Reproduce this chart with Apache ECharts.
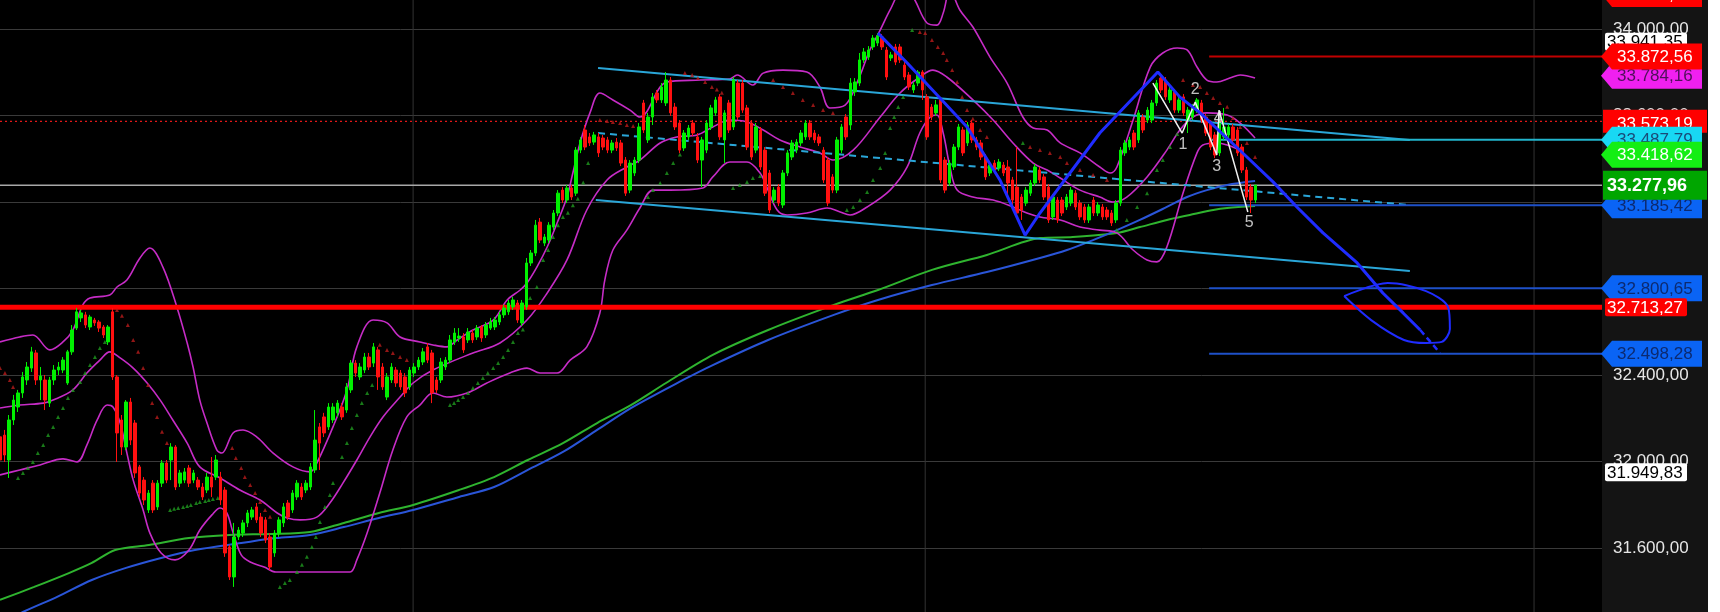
<!DOCTYPE html>
<html><head><meta charset="utf-8">
<script src="https://cdn.jsdelivr.net/npm/echarts@6/dist/echarts.min.js"></script>
<style>html,body{margin:0;padding:0;background:#000;overflow:hidden}#c{width:1720px;height:612px}</style>
</head><body><div id="c"></div>
<script>
// ---- candles (index = bar number) ----
const O=[32114,32122,32007,32192,32252,32317,32377,32432,32502,32377,
32377,32270,32377,32423,32423,32363,32507,32617,32664,32678,
32622,32654,32645,32622,32553,32692,32391,32192,32067,32275,
32178,31975,31914,31776,31900,31790,31900,31993,32007,32067,
31900,31914,31970,31914,31914,31882,31868,31928,31928,31928,
31868,31605,31466,31651,31669,31716,31743,31790,31743,31730,
31651,31577,31669,31716,31808,31776,31836,31882,31868,31882,
31961,32160,32206,32160,32192,32225,32252,32238,32331,32455,
32391,32423,32483,32455,32516,32437,32298,32377,32423,32409,
32391,32345,32409,32437,32460,32530,32502,32377,32377,32437,
32469,32553,32571,32576,32562,32594,32576,32622,32585,32617,
32622,32645,32678,32692,32715,32733,32641,32715,32918,32964,
33107,33010,33024,33084,33149,33255,33209,33265,33241,33440,
33533,33501,33477,33501,33496,33487,33440,33477,33473,33394,
33255,33334,33394,33658,33487,33593,33704,33672,33658,33764,
33639,33565,33450,33501,33565,33501,33394,33440,33547,33612,
33686,33487,33658,33547,33750,33750,33635,33565,33440,33533,
33440,33334,33209,33269,33186,33334,33408,33440,33473,33501,
33565,33519,33501,33440,33394,33316,33255,33440,33593,33556,
33709,33750,33857,33870,33917,33935,33963,33903,33866,33917,
33917,33833,33787,33718,33750,33801,33686,33639,33612,33672,
33394,33288,33362,33454,33533,33473,33565,33487,33473,33408,
33334,33380,33357,33371,33362,33302,33269,33223,33195,33241,
33288,33348,33316,33269,33131,33209,33209,33177,33195,33241,
33195,33177,33117,33209,33149,33177,33163,33149,33117,33195,
33427,33454,33519,33487,33593,33579,33579,33658,33773,33764,
33672,33709,33625,33686,33579,33593,33625,33658,33593,33565,
33510,33427,33501,33510,33547,33533,33454,33348,33269,33209];
const C=[32007,32030,32192,32284,32317,32391,32437,32507,32377,32395,
32284,32377,32423,32437,32469,32507,32608,32692,32687,32631,
32668,32641,32617,32585,32622,32391,32132,32067,32275,32099,
31947,31854,31822,31854,31776,31900,31993,31914,32067,31882,
31947,31952,31900,31947,31882,31836,31928,31882,32007,31822,
31577,31466,31651,31683,31716,31762,31776,31730,31669,31637,
31512,31669,31730,31790,31743,31854,31900,31836,31900,31975,
32099,32085,32132,32252,32252,32270,32206,32345,32455,32409,
32437,32483,32437,32530,32391,32345,32391,32437,32363,32345,
32317,32423,32437,32469,32507,32469,32317,32331,32460,32469,
32562,32594,32580,32516,32599,32562,32617,32571,32631,32645,
32654,32678,32710,32733,32747,32654,32733,32918,32964,33093,
33024,33038,33093,33149,33241,33209,33265,33223,33440,33487,
33454,33473,33510,33427,33454,33440,33473,33450,33380,33241,
33380,33394,33547,33533,33593,33685,33672,33732,33764,33612,
33547,33440,33519,33542,33519,33394,33487,33565,33635,33672,
33501,33612,33533,33764,33593,33625,33454,33408,33547,33362,
33241,33163,33255,33195,33334,33427,33473,33477,33519,33565,
33501,33487,33473,33302,33195,33255,33487,33547,33501,33750,
33755,33857,33894,33903,33958,33968,33917,33778,33880,33847,
33857,33778,33732,33741,33801,33718,33501,33593,33649,33302,
33255,33380,33454,33547,33427,33556,33487,33454,33408,33316,
33371,33348,33385,33334,33288,33209,33149,33163,33255,33288,
33362,33302,33223,33117,33223,33117,33149,33223,33255,33177,
33131,33117,33177,33149,33186,33131,33131,33103,33195,33440,
33473,33487,33454,33612,33533,33625,33658,33750,33718,33686,
33718,33625,33672,33612,33625,33639,33672,33579,33519,33454,
33417,33565,33547,33547,33487,33427,33348,33223,33209,33278];
const H=[32183,32146,32215,32308,32331,32414,32460,32530,32516,32437,
32400,32391,32446,32460,32483,32516,32631,32710,32701,32692,
32678,32664,32654,32631,32631,32710,32400,32215,32284,32294,
32192,31984,31928,31868,31914,31914,32007,32007,32085,32076,
31961,31970,31984,31961,31928,31900,31947,32021,32030,31952,
31882,31614,31716,31697,31730,31776,31790,31808,31762,31743,
31669,31683,31743,31808,31822,31868,31914,31900,31914,31993,
32238,32178,32225,32270,32270,32284,32270,32363,32469,32469,
32455,32502,32502,32548,32530,32455,32409,32455,32437,32423,
32409,32437,32455,32483,32525,32548,32516,32391,32479,32483,
32585,32617,32617,32594,32617,32608,32631,32631,32645,32664,
32668,32692,32724,32747,32761,32747,32747,32941,32978,33117,
33126,33052,33107,33163,33255,33269,33279,33279,33454,33501,
33556,33519,33524,33519,33510,33501,33487,33496,33487,33408,
33394,33408,33565,33672,33612,33704,33718,33750,33801,33778,
33658,33579,33533,33556,33579,33519,33501,33579,33649,33686,
33699,33625,33672,33778,33764,33764,33649,33579,33565,33547,
33454,33348,33269,33283,33348,33440,33487,33491,33533,33579,
33579,33533,33514,33454,33408,33329,33501,33561,33607,33773,
33773,33889,33912,33921,33972,33981,33977,33917,33894,33931,
33931,33847,33801,33755,33810,33810,33699,33653,33672,33686,
33408,33394,33468,33561,33547,33570,33579,33501,33487,33422,
33385,33394,33399,33385,33394,33316,33454,33237,33269,33302,
33376,33362,33329,33283,33237,33223,33223,33237,33269,33255,
33209,33191,33191,33223,33200,33191,33177,33163,33209,33454,
33487,33501,33533,33625,33607,33639,33672,33764,33792,33778,
33732,33722,33686,33699,33639,33653,33681,33672,33607,33579,
33524,33579,33635,33561,33561,33547,33468,33362,33283,33279];
const L=[31984,31998,31924,32169,32229,32294,32354,32414,32354,32284,
32238,32252,32354,32400,32409,32354,32493,32608,32645,32617,
32608,32627,32599,32571,32539,32377,31998,32030,32053,32076,
31924,31836,31799,31762,31762,31776,31882,31900,31914,31868,
31882,31900,31882,31900,31868,31822,31854,31836,31914,31799,
31559,31452,31420,31637,31651,31697,31730,31716,31651,31623,
31498,31559,31651,31697,31730,31762,31822,31822,31854,31868,
31947,31961,32113,32146,32178,32206,32192,32225,32317,32391,
32377,32409,32423,32437,32331,32331,32284,32363,32345,32331,
32298,32331,32391,32423,32446,32455,32270,32317,32363,32423,
32455,32539,32553,32502,32548,32548,32562,32553,32571,32608,
32608,32631,32664,32678,32701,32641,32627,32701,32904,32950,
33010,32996,33010,33070,33135,33195,33195,33209,33228,33426,
33440,33459,33464,33408,33440,33426,33426,33436,33366,33228,
33241,33320,33380,33519,33473,33556,33658,33658,33644,33598,
33533,33426,33436,33487,33505,33380,33269,33426,33533,33598,
33487,33380,33519,33533,33579,33612,33440,33394,33426,33348,
33228,33149,33195,33181,33172,33320,33394,33426,33459,33487,
33487,33473,33459,33288,33181,33241,33241,33426,33487,33533,
33690,33736,33843,33857,33903,33921,33903,33764,33852,33833,
33843,33764,33718,33704,33736,33672,33487,33579,33598,33288,
33241,33274,33348,33440,33413,33459,33473,33440,33394,33302,
33320,33334,33343,33320,33223,33186,33131,33117,33181,33228,
33274,33288,33209,33103,33117,33103,33135,33163,33181,33163,
33117,33103,33103,33135,33135,33117,33117,33089,33103,33181,
33413,33440,33440,33473,33519,33565,33565,33644,33704,33672,
33658,33612,33612,33598,33519,33579,33612,33565,33505,33440,
33403,33413,33487,33496,33473,33413,33334,33209,33149,33195];

// ---- Bollinger bands [bar, value] ----
const bbUpper=[[0,32553],[4.4,32576],[7.3,32585],[11.1,32516],[14,32553],[16.2,32608],[18.4,32724],[20,32756],[24.4,32770],[26,32807],[28.2,32839],[31.1,32941],[33.3,32987],[36.2,32899],[39.3,32715],[41.6,32548],[42.9,32437],[44.4,32284],[46,32178],[48.2,32053],[49.3,32039],[51.8,32132],[54,32146],[57.1,32113],[60.7,32039],[65.1,31975],[68.9,31952],[70.4,31993],[74,32160],[77.1,32331],[79.3,32530],[82.9,32654],[86,32641],[88.9,32576],[93.3,32553],[96.2,32539],[99.3,32530],[101.6,32562],[105.1,32608],[109.6,32654],[112.7,32747],[115.6,32793],[117.1,32825],[119.3,32899],[121.6,32992],[123.8,33103],[126,33223],[127.3,33334],[128.9,33473],[131.1,33612],[133.3,33704],[136.2,33672],[140,33625],[142.2,33593],[148.2,33755],[155.6,33764],[162.2,33769],[163.8,33787],[167.3,33741],[169.6,33796],[174,33810],[179.3,33801],[182.2,33732],[184.4,33635],[187.8,33648],[190.7,33764],[193.3,33903],[195.6,33995],[197.8,34088],[201.1,34203],[203.3,34134],[206,34028],[208.2,34018],[209.6,34074],[211.1,34180],[213.3,34088],[216.2,34009],[220,33870],[223.8,33750],[227.3,33593],[229.6,33542],[232.7,33533],[235.6,33473],[240,33427],[244.4,33362],[246.7,33334],[248.2,33362],[251.8,33579],[255.6,33824],[258.4,33889],[261.6,33912],[263.8,33903],[266,33824],[268.2,33764],[270.4,33755],[273.3,33773],[275.6,33787],[278.9,33773]];
const bbMiddle=[[0,32247],[4.4,32261],[9.6,32270],[11.8,32284],[16.2,32331],[19.3,32409],[22.2,32469],[24.4,32507],[26.7,32479],[29.6,32432],[32.7,32363],[35.6,32284],[38.4,32192],[41.6,32085],[44.4,31975],[48.9,31924],[53.3,31868],[57.8,31822],[61.6,31762],[63.8,31739],[66.7,31730],[70.4,31743],[73.3,31808],[76.2,31900],[79.3,32007],[82.2,32113],[85.1,32206],[88.9,32298],[91.8,32363],[96.2,32423],[105.1,32502],[111.1,32548],[117.1,32654],[121.6,32779],[126,32932],[130.4,33163],[134.9,33302],[139.3,33362],[142.2,33394],[146.7,33473],[150.4,33501],[154.9,33510],[158.4,33547],[162.2,33579],[166,33570],[169.6,33533],[173.3,33487],[177.8,33454],[182.2,33427],[185.1,33394],[189.6,33440],[195.6,33593],[200,33704],[204.4,33778],[207.3,33810],[210.4,33778],[216.2,33672],[220.7,33579],[225.1,33473],[229.6,33380],[232.7,33348],[235.6,33311],[240,33255],[244.4,33223],[247.3,33200],[250.4,33223],[254.9,33316],[259.3,33440],[262.2,33533],[265.1,33593],[268.2,33612],[272.7,33602],[275.6,33565],[278.9,33496]];
const bbLower=[[0,31938],[4.4,31961],[8.9,31984],[14,32012],[17.1,31998],[19.3,32076],[21.6,32192],[23.8,32261],[25.1,32252],[26.7,32178],[28.2,32039],[29.6,31914],[31.8,31776],[33.3,31670],[35.8,31577],[38.9,31545],[42,31591],[44.4,31683],[47.1,31753],[48.9,31785],[50.4,31762],[51.8,31670],[53.6,31568],[55.6,31535],[58.7,31512],[61.3,31489],[66.7,31489],[72.7,31489],[77.8,31489],[79.3,31545],[81.6,31670],[84.4,31854],[87.3,32053],[90.4,32206],[93.3,32261],[96.2,32317],[99.3,32298],[103.8,32317],[108.2,32363],[113.3,32409],[117.1,32432],[120,32409],[123.8,32409],[126.7,32469],[130.4,32530],[133.3,32687],[134.4,32839],[136.2,32978],[139.3,33070],[142.2,33172],[145.1,33255],[148.9,33255],[156.2,33265],[158.4,33316],[162.2,33385],[166,33385],[168.9,33334],[170.4,33269],[172.7,33163],[174.9,33140],[179.3,33149],[183.8,33172],[186.7,33154],[188.9,33140],[192.7,33177],[197.8,33255],[201.6,33362],[204.4,33519],[206.7,33593],[208.2,33602],[209.6,33519],[211.1,33362],[212.7,33255],[216.2,33223],[220.7,33209],[225.1,33177],[228.2,33149],[231.1,33131],[235.6,33117],[240,33084],[244.4,33070],[248.2,33057],[251.8,32978],[254.9,32932],[257.1,32923],[259.3,32992],[262.9,33242],[266,33427],[267.3,33464],[270.4,33473],[272.7,33464],[275.6,33440]];

// ---- long moving averages ----
const maGreen=[[0,31360],[7.6,31420],[15.3,31484],[20.4,31531],[25.6,31591],[33.1,31614],[42,31646],[51.1,31660],[60,31665],[68.9,31674],[76.4,31716],[84.2,31762],[91.8,31799],[102,31868],[109.8,31928],[117.3,32007],[125.1,32085],[132.7,32178],[140.2,32261],[148,32363],[158.4,32493],[170.7,32608],[185.3,32724],[195.1,32793],[207.1,32886],[219.3,32955],[231.1,33033],[238.4,33038],[248.2,33057],[253.3,33084],[259.3,33117],[264.4,33140],[269.6,33163],[272.7,33172],[278.9,33181]];
const maBlue=[[0,31244],[5.1,31304],[12.7,31374],[20.4,31452],[28,31508],[35.8,31554],[43.3,31591],[53.6,31623],[61.3,31646],[68.9,31660],[76.4,31697],[84.2,31739],[91.8,31776],[102,31836],[109.8,31882],[117.3,31961],[125.1,32044],[132.7,32146],[140.2,32247],[151.8,32377],[158.4,32446],[170.7,32562],[185.3,32678],[195.1,32747],[207.1,32816],[219.3,32876],[231.1,32941],[237.1,32978],[242.9,33024],[248.2,33070],[253.3,33117],[259.3,33177],[263.8,33223],[268.2,33255],[272.7,33279],[278.9,33297]];

// ---- parabolic SAR dots ----
const sarUp=[[4,31924],[5.1,31947],[6.2,31970],[7.3,31998],[8.4,32039],[9.6,32076],[10.7,32122],[11.8,32160],[12.9,32206],[14,32247],[15.1,32294],[16.2,32331],[17.8,32368],[18.9,32409],[20,32446],[21.1,32483],[22.2,32525],[23.3,32553],[24,32571],
[37.8,31776],[38.7,31781],[39.6,31785],[40.7,31790],[41.6,31794],[42.4,31799],[43.6,31808],[44.4,31813],[45.6,31817],[46.4,31822],[47.3,31827],[48.4,31831],
[62.2,31420],[63.3,31438],[64.4,31452],[66,31489],[67.1,31522],[68.2,31559],[69.3,31605],[70.2,31651],[71.1,31720],[72.2,31790],[73.3,31845],[74,31901],[76,32021],[77.1,32085],[78.2,32155],[79.3,32215],[80.4,32270],[81.6,32317],[82.7,32354],
[100,32261],[100.9,32270],[101.8,32284],[102.9,32298],[104,32317],[105.1,32340],[106.2,32363],[107.3,32386],[108.4,32409],[109.6,32432],[110.7,32455],[111.8,32483],[112.9,32516],[114,32553],[115.1,32594],[116.2,32610],[117.8,32756],[119.3,32807],[120.7,32932],[121.8,32978],[122.9,33038],[124,33093],[125.1,33131],[126.2,33150],[127.3,33185],[128.4,33215],[129.6,33290],[130.7,33380],
[144,33223],[145.1,33255],[146.7,33288],[148.2,33334],[149.6,33380],[151.1,33420],
[162.9,33265],[164.4,33279],[166,33293],[167.3,33311],[168.9,33320],
[188.2,33163],[189.6,33177],[191.1,33209],[192.7,33246],[194,33302],[195.6,33357],[196.7,33427],[197.8,33542],[198.7,33593],[199.6,33639],[200.7,33686],[202.7,33995],
[227.3,33473],
[248.2,33070],[250.4,33117],[252.7,33177],[254.9,33241],[257.1,33348],[258.4,33394],[260,33454],[261.6,33515]];
const sarDown=[[0,32432],[1.1,32409],[2.2,32377],[2.9,32345],
[26,32701],[27.1,32674],[28.4,32631],[29.6,32562],[30.7,32507],[31.8,32432],[32.9,32354],[33.8,32270],[34.9,32206],[36,32137],[37.1,32085],
[51.6,32062],[52.4,32016],[53.6,31970],[54.4,31928],[55.6,31891],[56.7,31854],[57.8,31813],[58.9,31776],[60,31744],
[84.4,32540],[86,32516],[87.3,32502],[88.9,32483],[90.4,32469],
[133.3,33579],[134.9,33575],[136.2,33570],[137.8,33565],[139.3,33556],[140.7,33551],
[152.2,33796],[153.8,33787],[155.1,33773],[156.7,33755],[158.2,33732],[159.3,33720],[160.4,33705],
[171.8,33764],[174,33732],[176.2,33704],[178.4,33672],[180.7,33649],[182.9,33625],[185.1,33612],
[204.4,33986],[205.6,33981],[207.1,33949],[208.4,33917],[209.6,33889],[210.4,33857],[211.6,33810],[212.7,33755],[213.8,33686],[214.9,33625],[216.2,33585],[217.8,33533],[219.3,33501],
[228.9,33454],[231.1,33440],[233.3,33427],[235.6,33408],[237.1,33380],[240,33348],[242.9,33325],[246,33302],
[262.9,33764],[265.1,33741],[266.7,33732],[268.2,33704],[269.6,33681],[271.1,33658],[272.7,33640],[274,33588],[275.6,33547],[277.1,33473],[278.9,33408]];

// ---- drawn objects ----
const channelUpper=[[132.9,33820],[313.3,33487]];
const channelMid=[[132.9,33519],[313.3,33186]];
const channelLower=[[132.4,33209],[313.3,32881]];
const zigIdx=[195.1,201.6,214.9,222.2,227.8,231.1,244.4,257.3,262.2,266.7,277.1,282.9,288.2,294,301.6,307.3,311.8,315.6];
const zigVal=[33981,33843,33547,33302,33047,33149,33519,33801,33685,33612,33408,33293,33177,33057,32918,32779,32687,32608];
const zigTail=[[315.6,32608],[320,32502]];
const loopIdx=[298.7,308.4,316.9,321.8,322.2,320.4,316.9,312,304.7,298.7];
const loopVal=[32765,32825,32788,32714,32613,32553,32548,32562,32654,32765];
const wavePathIdx=[256.2,262.7,265.6,270.4,270.9,277.3];
const wavePathVal=[33750,33519,33662,33417,33625,33154];
const waveLabels=['1','2','3','4','5'];
const waveIdx=[262.9,265.6,270.4,270.7,277.6];
const waveVal=[33464,33718,33362,33588,33103];
const vGridIdx=[91.8,205.6,340.9];
const levelStart=268.7;
const levelRed=33872.56, levelCyan=33487.79, levelBlue=[33185.42,32800.65,32498.28];
const lastPrice=33277.96, dottedRed=33573.19, supportRed=32713.27;
const tagValues=[34162.40,33941.35,33784.16,33872.56,33573.19,33487.79,33418.62,33185.42,33277.96,32800.65,32713.27,32498.28,31949.83];

// ---- rendering ----
const X_MAX=356, Y_MIN=31200, Y_MAX=34400;
const FONT='Arial, "Liberation Sans", sans-serif';
const fmt=v=>{const s=v.toFixed(2).split('.');return s[0].replace(/\B(?=(\d{3})+(?!\d))/g,'.')+','+s[1];};
const pairs=(xs,ys)=>xs.map((x,k)=>[x,ys[k]]);
const tagStyles=[
 {shape:'arrow',bg:'#ff0000',fg:'#ffffff'},
 {shape:'box',bg:'#ffffff',fg:'#000000'},
 {shape:'arrow',bg:'#f020f0',fg:'#50105a'},
 {shape:'arrow',bg:'#ff0000',fg:'#ffffff'},
 {shape:'wide',bg:'#ff0000',fg:'#ffffff'},
 {shape:'arrow',bg:'#18d8f4',fg:'#1a4a78'},
 {shape:'arrow',bg:'#14ee14',fg:'#ffffff'},
 {shape:'arrow',bg:'#0a64f5',fg:'#0c2a70'},
 {shape:'current',bg:'#00a600',fg:'#ffffff'},
 {shape:'arrow',bg:'#0a64f5',fg:'#0c2a70'},
 {shape:'box',bg:'#ff0000',fg:'#ffffff'},
 {shape:'arrow',bg:'#0a64f5',fg:'#0c2a70'},
 {shape:'box',bg:'#ffffff',fg:'#000000'}
];
function line(data,color,width,z,extra){return Object.assign({type:'line',data:data,symbol:'none',silent:true,z:z,lineStyle:{color:color,width:width},animation:false},extra||{});}
function hseg(v,x0,color,width,z,type){return line([[x0,v],[X_MAX,v]],color,width,z,{lineStyle:{color:color,width:width,type:type||'solid'}});}

const series=[];
vGridIdx.forEach(x=>series.push(line([[x,Y_MIN],[x,Y_MAX]],'#333333',1,1)));
series.push(hseg(lastPrice,0,'#a8a8a8',1.5,2));
series.push(hseg(dottedRed,0,'#e01818',1.2,2,[2,3]));
series.push(line(maGreen,'#2fb42f',2,2,{smooth:0.3}));
series.push(line(maBlue,'#2a55d8',2,2,{smooth:0.3}));
[bbUpper,bbMiddle,bbLower].forEach(d=>series.push(line(d,'#c62cc6',1.6,2,{smooth:0.35})));
series.push(line(channelUpper,'#2aa6d8',2,3));
series.push(line(channelLower,'#2aa6d8',2,3));
series.push(line(channelMid,'#2aa6d8',2,3,{lineStyle:{color:'#2aa6d8',width:2,type:[7,5]}}));
series.push(hseg(levelRed,levelStart,'#c00000',2,3));
series.push(hseg(levelCyan,levelStart,'#22b4cc',2,3));
levelBlue.forEach(v=>series.push(hseg(v,levelStart,'#1e50c8',2,3)));
series.push(hseg(supportRed,0,'#ff0000',5,4));
series.push({type:'scatter',data:sarUp,symbol:'triangle',symbolSize:4,itemStyle:{color:'#1f9a1f'},silent:true,z:4,animation:false});
series.push({type:'scatter',data:sarDown,symbol:'triangle',symbolSize:4,itemStyle:{color:'#b81c1c'},silent:true,z:4,animation:false});
series.push({type:'candlestick',data:O.map((o,i)=>[i,o,C[i],L[i],H[i]]),encode:{x:0,y:[1,2,3,4]},barWidth:3,
  itemStyle:{color:'#00f000',color0:'#ff1010',borderColor:'#00f000',borderColor0:'#ff1010',borderWidth:1},silent:true,z:5,animation:false});
series.push(line(pairs(wavePathIdx,wavePathVal),'#f0f0f0',1.5,6));
series.push(line(pairs(zigIdx,zigVal),'#1f2cff',3,6));
series.push(line(zigTail,'#1f2cff',2.5,6,{lineStyle:{color:'#1f2cff',width:2.5,type:[6,4]}}));
series.push(line(pairs(loopIdx,loopVal),'#1f2cff',2,6,{smooth:0.3}));
series.push({type:'scatter',data:waveIdx.map((x,k)=>({value:[x,waveVal[k]],name:waveLabels[k]})),symbol:'circle',symbolSize:2,
  itemStyle:{color:'rgba(0,0,0,0)'},
  label:{show:true,position:'inside',formatter:p=>p.name,color:'#f0f0f0',fontSize:16,fontFamily:FONT},silent:true,z:7,animation:false});
series.push({type:'custom',data:tagValues.map(v=>[X_MAX,v]),encode:{x:0,y:1},clip:false,silent:true,z:10,animation:false,
  renderItem:function(params,api){
    const v=api.value(1), st=tagStyles[params.dataIndex];
    const p=api.coord([X_MAX,v]); const xr=p[0], y=p[1];
    let shp, tx=xr+15, ty=y+1, f='17px '+FONT;
    if(st.shape==='arrow'){shp={type:'polygon',shape:{points:[[xr-1,y],[xr+10,y-13],[xr+100,y-13],[xr+100,y+13],[xr+10,y+13]]}};}
    else if(st.shape==='box'){shp={type:'rect',shape:{x:xr+3,y:y-9,width:82,height:18,r:2}};tx=xr+5;}
    else if(st.shape==='wide'){shp={type:'rect',shape:{x:xr+1,y:y-11.5,width:104,height:23}};ty=y+3;}
    else {shp={type:'rect',shape:{x:xr+1,y:y-14.5,width:104,height:29}};tx=xr+5;f='bold 18px '+FONT;}
    shp.style={fill:st.bg};
    return {type:'group',children:[shp,{type:'text',style:{text:fmt(v),x:tx,y:ty,verticalAlign:'middle',fill:st.fg,font:f}}]};
  }});

const chart=echarts.init(document.getElementById('c'),null,{renderer:'canvas'});
chart.setOption({
  backgroundColor:'#141414',
  animation:false,
  grid:{left:0,right:118,top:-57.5,bottom:-22.5,containLabel:false,outerBoundsMode:'none',show:true,backgroundColor:'#000000',borderWidth:0},
  xAxis:{type:'value',min:0,max:X_MAX,show:false,splitLine:{show:false}},
  yAxis:{type:'value',position:'right',min:Y_MIN,max:Y_MAX,interval:400,scale:true,
    axisLine:{show:false},axisTick:{show:false},
    splitLine:{show:true,lineStyle:{color:'#3a3a3a',width:1}},
    axisLabel:{color:'#e6e6e6',fontSize:17,fontFamily:FONT,margin:11,formatter:v=>fmt(v)}},
  graphic:[{type:'rect',right:0,top:0,shape:{width:12,height:612},style:{fill:'#ffffff'},z:100}],
  series:series
});
</script>
</body></html>
